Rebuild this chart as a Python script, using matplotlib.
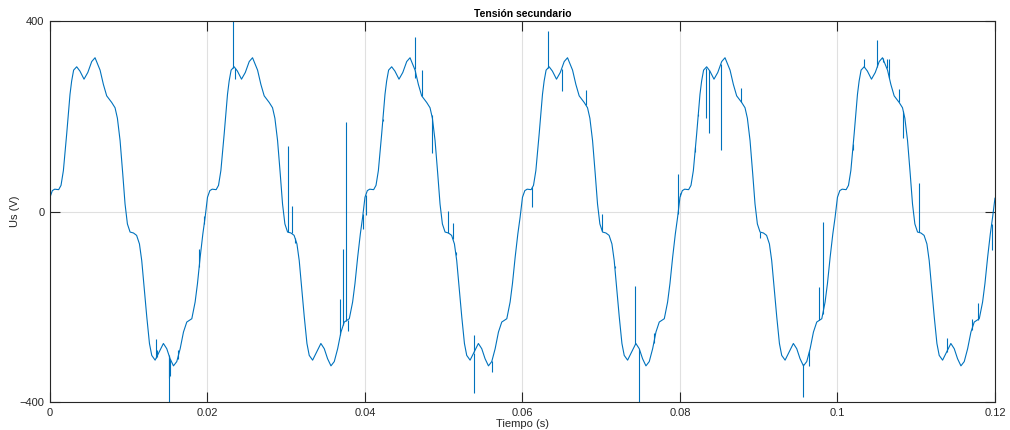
import numpy as np
import matplotlib
matplotlib.use("Agg")
import matplotlib.pyplot as plt

plt.rcParams['font.family'] = ['Liberation Sans', 'DejaVu Sans']

# one cycle of the secondary voltage, read from the first period (s, V)
cycle_t = [0.0, 0.0003, 0.0006, 0.0011, 0.0014, 0.0017, 0.00212, 0.00254, 0.00275,
           0.0030, 0.00339, 0.0038, 0.00432, 0.0048, 0.0053, 0.00572, 0.00636,
           0.00678, 0.0072, 0.00784, 0.00826, 0.00856, 0.0089, 0.00924, 0.00953,
           0.00983, 0.01017, 0.0106, 0.0110, 0.01136, 0.01165, 0.01195, 0.01229,
           0.01263, 0.01292, 0.01335, 0.01377, 0.0144, 0.01483, 0.01525, 0.01568,
           0.0161, 0.01653, 0.01695, 0.01737, 0.01801, 0.01843, 0.01873, 0.01907,
           0.01941, 0.0197]
cycle_v = [30, 44, 47, 46, 55, 86, 163, 246, 274,
           297, 304, 295, 278, 292, 315, 323, 297,
           267, 243, 229, 218, 196, 149, 79, 16,
           -26, -43, -45, -50, -68, -103, -158, -221,
           -277, -302, -312, -298, -277, -288, -309, -324,
           -315, -288, -253, -232, -225, -190, -151, -96,
           -47, -12]
period = 0.02
n_cycles = 6
end_v = 28

# switching spikes: time and spike tip (V); they start from the curve
spike_t = [0.01347, 0.01357, 0.0151, 0.01515, 0.01525, 0.0162, 0.01894, 0.01958,
           0.0232, 0.02354, 0.03017, 0.03068, 0.0311, 0.03688, 0.03726, 0.03755,
           0.0378, 0.03975, 0.04008,
           0.04228, 0.04629, 0.04635, 0.04726, 0.04848, 0.0505, 0.05114, 0.05156,
           0.0538, 0.05385, 0.05612,
           0.06127, 0.0632, 0.06498, 0.06802, 0.07013, 0.07173, 0.07435, 0.07485,
           0.07667, 0.07975, 0.08004,
           0.08191, 0.08233, 0.08326, 0.08369, 0.08517, 0.08775, 0.09017, 0.09559,
           0.09644, 0.09771, 0.09814,
           0.10201, 0.10341, 0.10506, 0.10574, 0.10624, 0.10658, 0.10781, 0.10836,
           0.1103, 0.11386, 0.11703, 0.11779, 0.11958]
spike_hi = [-268, -290, -400, -350, -345, -290, -78, -10,
            400, 278, 137, 11, -65, -184, -78, 189,
            -250, -37, -8,
            190, 367, 280, 297, 124, 2, -25, -85,
            -380, -260, -336,
            10, 379, 253, 255, -5, -115, -157, -400,
            -255, 79, 40,
            135, 200, 196, 165, 129, 260, -55, -389,
            -325, -158, -22,
            130, 320, 360, 315, 320, 320, 257, 154,
            61, -265, -226, -191, -80]

t = np.concatenate([np.array(cycle_t) + k * period for k in range(n_cycles)] + [[n_cycles * period]])
v = np.concatenate([np.array(cycle_v, dtype=float) for k in range(n_cycles)] + [[end_v]])
spike_base = np.interp(spike_t, t, v)

line_color = '#0072BD'
ink = '#262626'

fig = plt.figure(figsize=(10.1, 4.3), dpi=100)
ax = fig.add_axes([0.0495, 0.065, 0.9356, 0.886])

ax.plot(t, v, color=line_color, lw=0.8)
ax.vlines(spike_t, spike_base, spike_hi, color=line_color, lw=0.8)

ax.set_xlim(0, 0.12)
ax.set_ylim(-400, 400)
ax.set_xticks([0, 0.02, 0.04, 0.06, 0.08, 0.1, 0.12])
ax.set_xticklabels(['0', '0.02', '0.04', '0.06', '0.08', '0.1', '0.12'])
ax.set_yticks([-400, 0, 400])
ax.grid(True, color='#e0e0e0', lw=0.8)
ax.set_axisbelow(True)

ax.tick_params(direction='in', top=True, right=True, length=7, width=0.8,
               labelsize=8, colors=ink, pad=4)
for s in ax.spines.values():
    s.set_color(ink)
    s.set_linewidth(0.8)

ax.set_title('Tensión secundario', fontsize=7.5, fontweight='bold', color='black', pad=3)
ax.set_xlabel('Tiempo (s)', fontsize=8, color=ink, labelpad=1)
ax.set_ylabel('Us (V)', fontsize=8, color=ink, labelpad=0)

fig.savefig('out.png', dpi=100)
